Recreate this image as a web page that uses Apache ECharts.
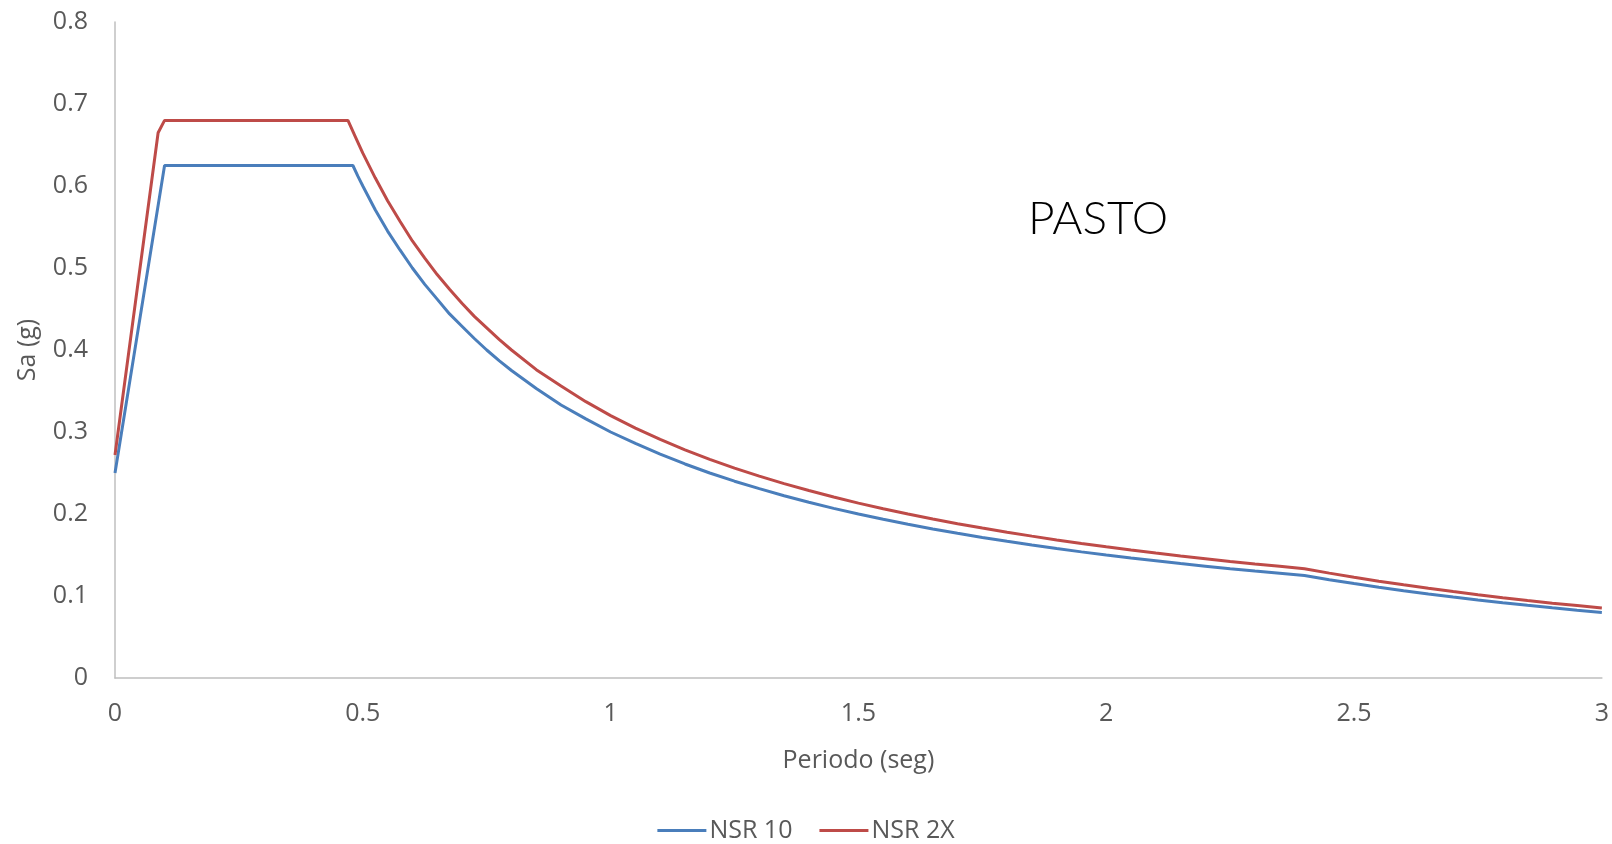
<!DOCTYPE html>
<html>
<head>
<meta charset="utf-8">
<title>PASTO</title>
<script src="https://cdn.jsdelivr.net/npm/echarts@6/dist/echarts.min.js"></script>
<style>
    html, body { margin: 0; padding: 0; background: #fff; }
    #chart { width: 1612px; height: 844px; }
</style>
</head>
<body>
<div id="chart"></div>
<script>
// NSR 10 espectro
let periodos_nsr10 = [0, 0.1, 0.48, 0.49, 0.5, 0.525, 0.55, 0.575, 0.6, 0.625, 0.65, 0.675, 0.7, 0.725, 0.75, 0.775,
    0.8, 0.85, 0.9, 0.95,
    1.0, 1.05, 1.1, 1.15, 1.2, 1.25, 1.3, 1.35, 1.4, 1.45, 1.5, 1.55, 1.6, 1.65, 1.7, 1.75,
    1.8, 1.85, 1.9, 1.95, 2.0, 2.05, 2.1, 2.15, 2.2, 2.25, 2.3, 2.35, 2.4, 2.45, 2.5, 2.55,
    2.6, 2.65, 2.7, 2.75, 2.8, 2.85, 2.9, 2.95, 3.0];
let sa_nsr10 = [0.25, 0.625, 0.625, 0.612, 0.600, 0.571, 0.545, 0.522, 0.500, 0.480, 0.462, 0.444, 0.429, 0.414, 0.400, 0.387,
    0.375, 0.353, 0.333, 0.316,
    0.300, 0.286, 0.273, 0.261, 0.250, 0.240, 0.231, 0.2222, 0.2143, 0.2069, 0.200, 0.1935, 0.1875, 0.1818, 0.1765, 0.1714,
    0.1667, 0.1622, 0.1579, 0.1538, 0.150, 0.1463, 0.1429, 0.1395, 0.1364, 0.1333, 0.1304, 0.1277, 0.125, 0.1199, 0.1152, 0.1107,
    0.1065, 0.1025, 0.0988, 0.0952, 0.0918, 0.0886, 0.0856, 0.0827, 0.080];

// NSR 2X espectro
let periodos_nsr2x = [0, 0.087, 0.1, 0.47, 0.485, 0.5, 0.525, 0.55, 0.575, 0.6, 0.625, 0.65, 0.675, 0.7, 0.725, 0.75, 0.775,
    0.8, 0.85, 0.9, 0.95,
    1.0, 1.05, 1.1, 1.15, 1.2, 1.25, 1.3, 1.35, 1.4, 1.45, 1.5, 1.55, 1.6, 1.65, 1.7, 1.75,
    1.8, 1.85, 1.9, 1.95, 2.0, 2.05, 2.1, 2.15, 2.2, 2.25, 2.3, 2.35, 2.4, 2.45, 2.5, 2.55,
    2.6, 2.65, 2.7, 2.75, 2.8, 2.85, 2.9, 2.95, 3.0];
let sa_nsr2x = [0.272, 0.665, 0.68, 0.68, 0.660, 0.640, 0.610, 0.582, 0.557, 0.533, 0.512, 0.492, 0.474, 0.457, 0.441, 0.427, 0.413,
    0.400, 0.376, 0.356, 0.337,
    0.320, 0.3048, 0.2909, 0.2783, 0.2667, 0.256, 0.2462, 0.237, 0.2286, 0.2207, 0.2133, 0.2065, 0.200, 0.1939, 0.1882, 0.1829,
    0.1778, 0.1730, 0.1684, 0.1641, 0.160, 0.1561, 0.1524, 0.1488, 0.1455, 0.1422, 0.1391, 0.1362, 0.1333, 0.1279, 0.1229, 0.1181,
    0.1136, 0.1094, 0.1054, 0.1016, 0.0980, 0.0946, 0.0913, 0.0883, 0.0853];

let nombres_series = ['NSR 10', 'NSR 2X'];

function pares(xs, ys) {
    return xs.map((x, i) => [x, ys[i]]);
} // une periodo y Sa

let chart = echarts.init(document.getElementById('chart'));

let fuente = '"Open Sans", "Noto Sans", sans-serif';

let option = {
    animation: false,
    textStyle: { fontFamily: fuente },
    grid: {
        left: 115,
        right: 10,
        top: 22,
        bottom: 166
    },
    legend: {
        data: nombres_series,
        bottom: -4,
        left: 'center',
        icon: 'rect',
        itemWidth: 49,
        itemHeight: 3,
        itemGap: 27,
        textStyle: { color: '#595959', fontSize: 25, fontFamily: fuente, padding: [0, 0, 0, -2] }
    },
    graphic: [
        {
            type: 'text',
            left: 1028,
            top: 196,
            style: {
                text: 'PASTO',
                fill: '#000',
                font: '300 46px "Lato", "Open Sans", sans-serif'
            }
        }
    ],
    xAxis: {
        type: 'value',
        min: 0,
        max: 3,
        interval: 0.5,
        name: 'Periodo (seg)',
        nameLocation: 'middle',
        nameGap: 70,
        nameTextStyle: { color: '#595959', fontSize: 25 },
        axisLine: { show: true, lineStyle: { color: '#bfbfbf', width: 1.5 } },
        axisTick: { show: false },
        splitLine: { show: false },
        axisLabel: { color: '#595959', fontSize: 25, margin: 23 }
    },
    yAxis: {
        type: 'value',
        min: 0,
        max: 0.8,
        interval: 0.1,
        name: 'Sa (g)',
        nameLocation: 'middle',
        nameGap: 75,
        nameTextStyle: { color: '#595959', fontSize: 25 },
        axisLine: { show: true, lineStyle: { color: '#bfbfbf', width: 1.5 } },
        axisTick: { show: false },
        splitLine: { show: false },
        axisLabel: { color: '#595959', fontSize: 25, margin: 27 }
    },
    series: [
        {
            name: nombres_series[0],
            type: 'line',
            data: pares(periodos_nsr10, sa_nsr10),
            showSymbol: false,
            lineStyle: { color: '#4a7ebb', width: 3 },
            itemStyle: { color: '#4a7ebb' }
        },
        {
            name: nombres_series[1],
            type: 'line',
            data: pares(periodos_nsr2x, sa_nsr2x),
            showSymbol: false,
            lineStyle: { color: '#be4b48', width: 3 },
            itemStyle: { color: '#be4b48' }
        }
    ]
};

chart.setOption(option);
</script>
</body>
</html>
